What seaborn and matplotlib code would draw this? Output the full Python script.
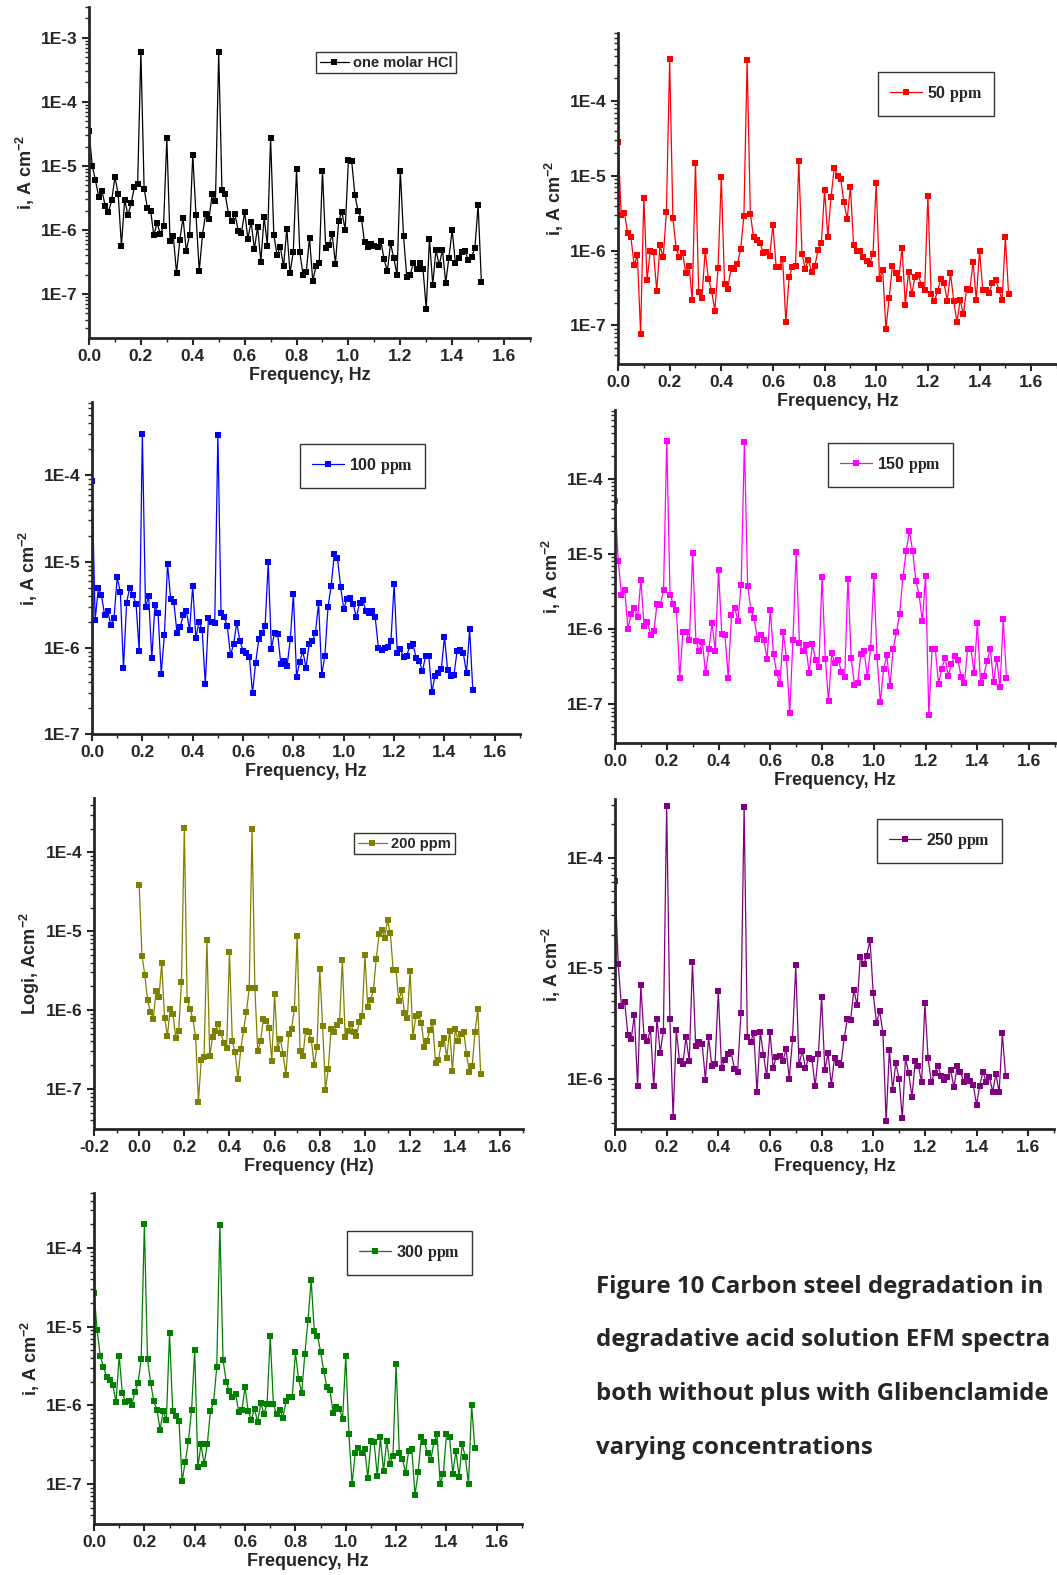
import numpy as np
import pandas as pd
import matplotlib
matplotlib.use("Agg")
import matplotlib.pyplot as plt
import matplotlib.ticker as mticker
import seaborn as sns

# ---------------- data ----------------
freq_step = 0.0125
n_pts = 122
freq = np.arange(n_pts) * freq_step

hcl = [3.5e-5, 1.0e-5, 5.9e-6, 3.3e-6, 4.1e-6, 2.35e-6, 1.9e-6, 2.9e-6, 6.7e-6, 3.6e-6,
       5.7e-7, 2.95e-6, 1.7e-6, 2.6e-6, 4.7e-6, 5.2e-6, 6.0e-4, 4.4e-6, 2.2e-6, 2.0e-6,
       8.2e-7, 1.3e-6, 8.5e-7, 1.17e-6, 2.7e-5, 6.6e-7, 8.1e-7, 2.1e-7, 7.0e-7, 1.55e-6,
       4.7e-7, 8.4e-7, 1.5e-5, 1.7e-6, 2.3e-7, 8.4e-7, 1.8e-6, 1.5e-6, 3.6e-6, 2.8e-6,
       5.9e-4, 4.2e-6, 3.6e-6, 1.8e-6, 1.37e-6, 1.8e-6, 9.7e-7, 8.9e-7, 1.9e-6, 7.3e-7,
       1.35e-6, 5.0e-7, 1.12e-6, 3.2e-7, 1.6e-6, 5.7e-7, 2.7e-5, 8.4e-7, 4.0e-7, 5.5e-7,
       2.7e-7, 1.04e-6, 2.1e-7, 4.6e-7, 8.8e-6, 4.5e-7, 2.0e-7, 2.2e-7, 7.6e-7, 1.6e-7,
       2.7e-7, 3.1e-7, 8.4e-6, 5.3e-7, 5.9e-7, 8.5e-7, 2.97e-7, 1.4e-6, 1.9e-6, 1.0e-6,
       1.23e-5, 1.2e-5, 3.5e-6, 1.95e-6, 1.5e-6, 6.4e-7, 5.4e-7, 6.0e-7, 5.7e-7, 5.5e-7,
       6.7e-7, 3.5e-7, 2.25e-7, 6.2e-7, 3.6e-7, 2.0e-7, 8.4e-6, 8.0e-7, 1.84e-7, 1.95e-7,
       3.0e-7, 2.45e-7, 3.1e-7, 2.45e-7, 5.9e-8, 7.2e-7, 1.4e-7, 4.9e-7, 2.8e-7, 4.9e-7,
       1.5e-7, 3.7e-7, 1.0e-6, 3.0e-7, 3.6e-7, 4.6e-7, 4.7e-7, 3.35e-7, 3.8e-7, 5.2e-7,
       2.45e-6, 1.55e-7]

ppm50 = [2.8e-5, 3.0e-6, 3.2e-6, 1.7e-6, 1.5e-6, 6.4e-7, 8.7e-7, 7.7e-8, 5.1e-6, 4.0e-7,
         9.9e-7, 9.7e-7, 2.9e-7, 1.18e-6, 8.1e-7, 3.3e-6, 3.6e-4, 2.75e-6, 1.08e-6, 8.1e-7,
         9.3e-7, 5.0e-7, 6.3e-7, 2.2e-7, 1.5e-5, 2.8e-7, 2.3e-7, 1.0e-6, 4.2e-7, 2.9e-7,
         1.57e-7, 5.9e-7, 9.6e-6, 3.55e-7, 3.1e-7, 5.8e-7, 5.6e-7, 6.6e-7, 1.05e-6, 2.9e-6,
         3.5e-4, 3.1e-6, 1.5e-6, 1.37e-6, 1.25e-6, 9.4e-7, 9.5e-7, 8.6e-7, 2.2e-6, 6.0e-7,
         6.1e-7, 7.7e-7, 1.1e-7, 4.4e-7, 6.0e-7, 6.2e-7, 1.57e-5, 9.1e-7, 5.75e-7, 7.5e-7,
         5.1e-7, 6.3e-7, 1.03e-6, 1.26e-6, 6.4e-6, 1.54e-6, 5.2e-6, 1.28e-5, 9.9e-6, 9.1e-6,
         4.4e-6, 2.67e-6, 7.1e-6, 1.17e-6, 1.0e-6, 1.0e-6, 8.3e-7, 7.2e-7, 6.7e-7, 9.1e-7,
         8.1e-6, 4.2e-7, 5.5e-7, 9.0e-8, 2.3e-7, 6.3e-7, 5.0e-7, 4.2e-7, 1.1e-6, 1.9e-7,
         5.2e-7, 2.6e-7, 4.5e-7, 4.7e-7, 3.45e-7, 3.0e-7, 5.4e-6, 2.6e-7, 2.1e-7, 2.9e-7,
         4.2e-7, 3.7e-7, 2.15e-7, 5.0e-7, 2.15e-7, 1.1e-7, 2.2e-7, 1.4e-7, 3.1e-7, 3.0e-7,
         7.0e-7, 2.2e-7, 1.0e-6, 3.0e-7, 3.0e-7, 2.75e-7, 3.7e-7, 4.1e-7, 3.0e-7, 2.2e-7,
         1.5e-6, 2.6e-7]

ppm100 = [8.6e-5, 2.1e-6, 4.9e-6, 4.1e-6, 2.4e-6, 2.66e-6, 1.83e-6, 2.2e-6, 6.6e-6, 4.45e-6,
          5.8e-7, 3.35e-6, 5.0e-6, 4.1e-6, 3.2e-6, 9.2e-7, 3.0e-4, 2.95e-6, 4.0e-6, 7.6e-7,
          3.1e-6, 2.5e-6, 5.0e-7, 1.4e-6, 9.4e-6, 3.7e-6, 3.4e-6, 1.5e-6, 1.72e-6, 2.4e-6,
          2.66e-6, 1.6e-6, 5.2e-6, 1.3e-6, 2.0e-6, 1.6e-6, 3.8e-7, 2.2e-6, 2.0e-6, 1.95e-6,
          2.95e-4, 2.56e-6, 2.3e-6, 1.77e-6, 8.2e-7, 1.1e-6, 1.95e-6, 1.2e-6, 9.3e-7, 8.6e-7,
          7.9e-7, 3.0e-7, 6.7e-7, 1.25e-6, 1.48e-6, 1.77e-6, 9.8e-6, 9.7e-7, 1.5e-6, 1.45e-6,
          6.5e-7, 7.1e-7, 6.2e-7, 1.25e-6, 4.2e-6, 4.6e-7, 6.9e-7, 9.1e-7, 5.9e-7, 1.1e-6,
          1.2e-6, 1.5e-6, 3.3e-6, 4.9e-7, 8.1e-7, 3.0e-6, 5.2e-6, 1.24e-5, 1.1e-5, 5.1e-6,
          2.8e-6, 3.7e-6, 3.8e-6, 3.2e-6, 2.25e-6, 3.3e-6, 3.56e-6, 2.7e-6, 2.5e-6, 2.66e-6,
          2.25e-6, 1.0e-6, 9.5e-7, 1.0e-6, 1.02e-6, 1.2e-6, 5.5e-6, 8.7e-7, 9.7e-7, 7.8e-7,
          8.1e-7, 1.05e-6, 1.1e-6, 7.6e-7, 7.0e-7, 5.4e-7, 8.0e-7, 8.0e-7, 3.1e-7, 4.7e-7,
          5.1e-7, 5.7e-7, 1.35e-6, 5.5e-7, 4.65e-7, 4.85e-7, 9.1e-7, 9.5e-7, 8.6e-7, 5.1e-7,
          1.64e-6, 3.25e-7]

ppm150 = [5.0e-5, 8.1e-6, 2.87e-6, 3.3e-6, 1.0e-6, 1.6e-6, 1.92e-6, 1.43e-6, 4.5e-6, 1.1e-6,
          1.25e-6, 8.4e-7, 9.3e-7, 2.18e-6, 2.1e-6, 3.3e-6, 3.2e-4, 2.87e-6, 2.16e-6, 1.8e-6,
          2.25e-7, 9.2e-7, 9.0e-7, 7.1e-7, 1.03e-5, 7.0e-7, 5.1e-7, 6.7e-7, 2.6e-7, 5.4e-7,
          1.2e-6, 5.1e-7, 6.1e-6, 8.7e-7, 8.3e-7, 2.25e-7, 1.54e-6, 1.92e-6, 1.28e-6, 3.9e-6,
          3.1e-4, 3.7e-6, 1.8e-6, 1.4e-6, 7.4e-7, 8.3e-7, 7.2e-7, 4.0e-7, 1.8e-6, 4.6e-7,
          2.6e-7, 1.87e-7, 9.0e-7, 4.1e-7, 7.7e-8, 7.1e-7, 1.06e-5, 6.6e-7, 5.1e-7, 6.1e-7,
          2.6e-7, 6.3e-7, 3.9e-7, 3.1e-7, 5.0e-6, 4.0e-7, 1.1e-7, 4.8e-7, 3.5e-7, 3.9e-7,
          2.7e-7, 2.3e-7, 4.7e-6, 4.1e-7, 1.83e-7, 1.9e-7, 4.7e-7, 5.1e-7, 2.3e-7, 5.6e-7,
          5.1e-6, 4.2e-7, 1.07e-7, 2.9e-7, 4.5e-7, 1.74e-7, 5.5e-7, 9.1e-7, 1.6e-6, 4.9e-6,
          1.1e-5, 2.0e-5, 1.1e-5, 4.4e-6, 2.84e-6, 1.28e-6, 5.1e-6, 7.1e-8, 5.5e-7, 5.5e-7,
          1.88e-7, 2.96e-7, 4.1e-7, 2.4e-7, 3.45e-7, 4.35e-7, 3.9e-7, 2.3e-7, 1.9e-7, 5.5e-7,
          5.5e-7, 2.6e-7, 1.2e-6, 1.9e-7, 2.4e-7, 3.8e-7, 5.5e-7, 2.0e-7, 4.0e-7, 1.67e-7,
          1.35e-6, 2.25e-7]

ppm200 = [3.85e-5, 4.9e-6, 2.8e-6, 1.33e-6, 9.5e-7, 7.8e-7, 1.73e-6, 1.45e-6, 3.9e-6, 8.0e-7,
          4.7e-7, 1.03e-6, 8.8e-7, 4.4e-7, 5.4e-7, 2.3e-6, 2.04e-4, 1.35e-6, 1.04e-6, 7.8e-7,
          4.6e-7, 6.9e-8, 2.35e-7, 2.57e-7, 7.8e-6, 2.6e-7, 4.5e-7, 5.4e-7, 6.7e-7, 5.1e-7,
          3.8e-7, 3.3e-7, 5.5e-6, 4.1e-7, 2.9e-7, 1.35e-7, 3.2e-7, 5.6e-7, 9.5e-7, 1.9e-6,
          2.0e-4, 1.9e-6, 3.0e-7, 4.0e-7, 7.7e-7, 7.35e-7, 6.0e-7, 2.26e-7, 1.6e-6, 3.2e-7,
          4.3e-7, 2.75e-7, 1.5e-7, 5.0e-7, 5.8e-7, 1.04e-6, 8.8e-6, 3.0e-7, 2.6e-7, 5.5e-7,
          5.2e-7, 4.2e-7, 2.0e-7, 3.4e-7, 3.35e-6, 6.2e-7, 9.8e-8, 1.8e-7, 5.8e-7, 5.3e-7,
          6.5e-7, 7.2e-7, 4.3e-6, 4.6e-7, 5.4e-7, 6.6e-7, 5.2e-7, 4.75e-7, 7.1e-7, 8.4e-7,
          5.0e-6, 1.08e-6, 1.34e-6, 1.8e-6, 4.5e-6, 9.1e-6, 1.04e-5, 8.3e-6, 1.38e-5, 9.4e-6,
          3.2e-6, 3.2e-6, 1.3e-6, 1.8e-6, 9.3e-7, 7.9e-7, 3.16e-6, 4.6e-7, 8.3e-7, 8.8e-7,
          6.9e-7, 3.4e-7, 4.06e-7, 5.6e-7, 7.1e-7, 2.16e-7, 2.3e-7, 3.7e-7, 4.4e-7, 2.5e-7,
          5.5e-7, 1.7e-7, 5.8e-7, 4.1e-7, 4.9e-7, 5.3e-7, 2.75e-7, 1.64e-7, 1.94e-7, 5.3e-7,
          1.02e-6, 1.56e-7]

ppm250 = [6.2e-5, 1.09e-5, 4.5e-6, 4.9e-6, 2.5e-6, 2.28e-6, 3.76e-6, 8.6e-7, 7.0e-6, 2.38e-6,
          2.17e-6, 2.8e-6, 8.5e-7, 3.5e-6, 1.72e-6, 2.7e-6, 2.95e-4, 3.5e-6, 4.5e-7, 2.73e-6,
          1.44e-6, 1.35e-6, 2.36e-6, 1.44e-6, 1.13e-5, 1.97e-6, 2.16e-6, 2.06e-6, 9.8e-7, 2.36e-6,
          1.3e-6, 1.37e-6, 6.2e-6, 1.25e-6, 1.48e-6, 1.66e-6, 1.74e-6, 1.22e-6, 1.16e-6, 3.9e-6,
          2.9e-4, 2.4e-6, 2.14e-6, 2.6e-6, 7.5e-7, 2.64e-6, 1.64e-6, 1.05e-6, 2.64e-6, 1.26e-6,
          1.58e-6, 1.6e-6, 1.44e-6, 1.84e-6, 1.0e-6, 2.3e-6, 1.06e-5, 1.33e-6, 1.78e-6, 1.25e-6,
          1.54e-6, 1.52e-6, 8.5e-7, 1.66e-6, 5.5e-6, 1.19e-6, 1.7e-6, 8.8e-7, 1.54e-6, 1.38e-6,
          1.33e-6, 2.33e-6, 3.5e-6, 3.4e-6, 6.4e-6, 4.6e-6, 1.26e-5, 1.08e-5, 1.3e-5, 1.8e-5,
          5.9e-6, 3.2e-6, 4.06e-6, 2.6e-6, 4.1e-7, 1.83e-6, 7.95e-7, 1.38e-6, 1.0e-6, 4.4e-7,
          1.53e-6, 1.12e-6, 6.8e-7, 1.43e-6, 1.29e-6, 9.3e-7, 4.8e-6, 1.53e-6, 9.3e-7, 1.12e-6,
          1.31e-6, 1.06e-6, 9.65e-7, 1.04e-6, 1.19e-6, 8.35e-7, 1.29e-6, 1.16e-6, 9.4e-7, 1.05e-6,
          9.6e-7, 8.7e-7, 5.8e-7, 8.65e-7, 1.16e-6, 9.3e-7, 1.04e-6, 7.6e-7, 1.1e-6, 7.5e-7,
          2.57e-6, 1.06e-6]

ppm300 = [2.7e-5, 9.0e-6, 4.2e-6, 3.1e-6, 2.3e-6, 2.1e-6, 1.8e-6, 1.09e-6, 4.25e-6, 1.44e-6,
          1.09e-6, 1.12e-6, 1.0e-6, 1.49e-6, 1.9e-6, 3.9e-6, 2.0e-4, 3.9e-6, 1.95e-6, 1.12e-6,
          8.8e-7, 4.9e-7, 8.45e-7, 6.5e-7, 8.3e-6, 8.5e-7, 7.4e-7, 6.4e-7, 1.08e-7, 1.92e-7,
          3.5e-7, 8.7e-7, 5.0e-6, 1.63e-7, 3.2e-7, 1.78e-7, 3.2e-7, 8.5e-7, 1.1e-6, 3.05e-6,
          1.96e-4, 3.8e-6, 2.0e-6, 1.5e-6, 1.29e-6, 1.39e-6, 8.2e-7, 8.7e-7, 1.72e-6, 8.4e-7,
          6.6e-7, 9.1e-7, 6.1e-7, 1.07e-6, 7.8e-7, 1.04e-6, 7.5e-6, 1.04e-6, 7.7e-7, 8.8e-7,
          6.95e-7, 1.12e-6, 1.27e-6, 1.29e-6, 4.7e-6, 2.15e-6, 1.44e-6, 4.5e-6, 1.2e-5, 3.9e-5,
          8.85e-6, 7.7e-6, 4.8e-6, 2.75e-6, 1.7e-6, 1.55e-6, 7.9e-7, 9.6e-7, 8.9e-7, 6.75e-7,
          4.25e-6, 4.3e-7, 1.0e-7, 2.45e-7, 2.9e-7, 2.5e-7, 2.8e-7, 1.2e-7, 3.5e-7, 3.4e-7,
          1.28e-7, 3.9e-7, 1.46e-7, 3.5e-7, 1.8e-7, 2.3e-7, 3.4e-6, 2.5e-7, 2.1e-7, 1.38e-7,
          2.65e-7, 2.75e-7, 7.2e-8, 1.4e-7, 3.9e-7, 3.4e-7, 2.45e-7, 2.0e-7, 3.4e-7, 4.3e-7,
          1.0e-7, 1.35e-7, 4.3e-7, 3.9e-7, 1.35e-7, 2.65e-7, 1.24e-7, 3.2e-7, 2.2e-7, 1.0e-7,
          1.0e-6, 2.85e-7]

labels = ["one molar HCl", r"50 $\mathbf{ppm}$", r"100 $\mathbf{ppm}$", r"150 $\mathbf{ppm}$",
          "200 ppm", r"250 $\mathbf{ppm}$", r"300 $\mathbf{ppm}$"]
colors = ["#000000", "#FF0000", "#0000FF", "#FF00FF", "#808000", "#800080", "#008000"]
series = [hcl, ppm50, ppm100, ppm150, ppm200, ppm250, ppm300]
ylabels = [r"i, A cm$^{\mathsf{-2}}$"] * 4 + [r"Logi, Acm$^{\mathsf{-2}}$"] + [r"i, A cm$^{\mathsf{-2}}$"] * 2
xlabels = ["Frequency, Hz"] * 4 + ["Frequency (Hz)"] + ["Frequency, Hz"] * 2
caption = ["Figure 10 Carbon steel degradation in",
           "degradative acid solution EFM spectra",
           "both without plus with Glibenclamide",
           "varying concentrations"]

# ---------------- style ----------------
sns.set_style("ticks")
plt.rcParams["font.family"] = ["Liberation Sans", "DejaVu Sans"]
plt.rcParams["font.weight"] = "bold"
plt.rcParams["axes.labelweight"] = "bold"
plt.rcParams["mathtext.fontset"] = "custom"
plt.rcParams["mathtext.rm"] = "Liberation Sans:bold"
plt.rcParams["mathtext.sf"] = "Liberation Sans:bold"
plt.rcParams["mathtext.bf"] = "Liberation Serif:bold"

W, H = 1057, 1575
fig = plt.figure(figsize=(W / 100, H / 100), dpi=100)
fig.patch.set_facecolor("white")

# (left, top, right, bottom) in pixels, xlim, ylim, legend anchor (px), legend borderpad
panels = [
    ((89, 7, 530, 338), (0, 1.7), (2.06e-8, 3.0e-3), (316, 52), 0.25),
    ((618, 33, 1057, 364), (0, 1.7), (3.05e-8, 8.1e-4), (878, 72), 0.75),
    ((92, 402, 520, 734), (0, 1.7), (1.0e-7, 7.1e-4), (300, 444), 0.75),
    ((615, 410, 1055, 743), (0, 1.7), (3.05e-8, 8.2e-4), (828, 443), 0.75),
    ((94, 798, 523, 1129), (-0.2, 1.7), (3.1e-8, 4.9e-4), (354, 833), 0.25),
    ((615, 799, 1054, 1129), (0, 1.7), (3.5e-7, 3.4e-4), (877, 819), 0.75),
    ((94, 1193, 522, 1524), (0, 1.7), (3.1e-8, 5.0e-4), (347, 1231), 0.75),
]

for k, (box, xl, yl, leg_xy, bp) in enumerate(panels):
    l, t, r, b = box
    ax = fig.add_axes([l / W, 1 - b / H, (r - l) / W, (b - t) / H])
    df = pd.DataFrame({"freq": freq, "i": series[k]})
    sns.lineplot(data=df, x="freq", y="i", ax=ax, color=colors[k], marker="s",
                 markersize=4.8, markeredgewidth=0, linewidth=0.9, label=labels[k])
    ax.set_yscale("log")
    ax.set_xlim(*xl)
    ax.set_ylim(*yl)
    for s in ["top", "right"]:
        ax.spines[s].set_visible(False)
    for s in ["left", "bottom"]:
        ax.spines[s].set_linewidth(2.0)
    lo, hi = np.ceil(np.log10(yl[0])), np.floor(np.log10(yl[1]))
    decades = [10.0 ** e for e in np.arange(lo, hi + 1)]
    ax.yaxis.set_major_locator(mticker.FixedLocator(decades))
    ax.yaxis.set_major_formatter(mticker.FuncFormatter(lambda v, p: "1E%d" % int(round(np.log10(v)))))
    ax.yaxis.set_minor_locator(mticker.LogLocator(base=10, subs=np.arange(2, 10), numticks=20))
    ax.yaxis.set_minor_formatter(mticker.NullFormatter())
    ax.xaxis.set_major_locator(mticker.MultipleLocator(0.2))
    ax.xaxis.set_minor_locator(mticker.MultipleLocator(0.1))
    ax.xaxis.set_major_formatter(mticker.FuncFormatter(lambda v, p: "%.1f" % (v + 0.0) if abs(v) > 1e-9 else "0.0"))
    ax.tick_params(axis="both", which="major", direction="out", length=5, width=1.5,
                   labelsize=12.5, pad=3)
    ax.tick_params(axis="both", which="minor", direction="out", length=3, width=1.0)
    for lab in ax.get_xticklabels() + ax.get_yticklabels():
        lab.set_fontweight("bold")
    ax.set_xlabel(xlabels[k], fontsize=13, fontweight="bold", labelpad=2)
    ax.set_ylabel(ylabels[k], fontsize=13, fontweight="bold", labelpad=3)
    leg = ax.legend(loc="upper left", bbox_to_anchor=(leg_xy[0] / W, 1 - leg_xy[1] / H),
                    bbox_transform=fig.transFigure, frameon=True, fancybox=False,
                    borderpad=bp, handlelength=2.0, handletextpad=0.3, borderaxespad=0,
                    prop={"weight": "bold", "size": 10.5 if k in (0, 4) else 11.5})
    leg.get_frame().set_edgecolor("black")
    leg.get_frame().set_linewidth(1.0)

# caption, sized so that its widest line ends just inside the right edge
cap_fam = ["Open Sans", "DejaVu Sans"]
fs = 17.0
renderer = fig.canvas.get_renderer()
widths = []
for line in caption:
    probe = fig.text(596 / W, 0.5, line, fontsize=fs, fontweight="bold", family=cap_fam)
    widths.append(probe.get_window_extent(renderer=renderer).width)
    probe.remove()
fs = fs * 455.0 / max(widths)
for j, line in enumerate(caption):
    fig.text(596 / W, 1 - (1287 + 53.5 * j) / H, line, fontsize=fs, fontweight="bold",
             family=cap_fam, va="center", ha="left")

fig.savefig("out.png", dpi=100, facecolor="white")
